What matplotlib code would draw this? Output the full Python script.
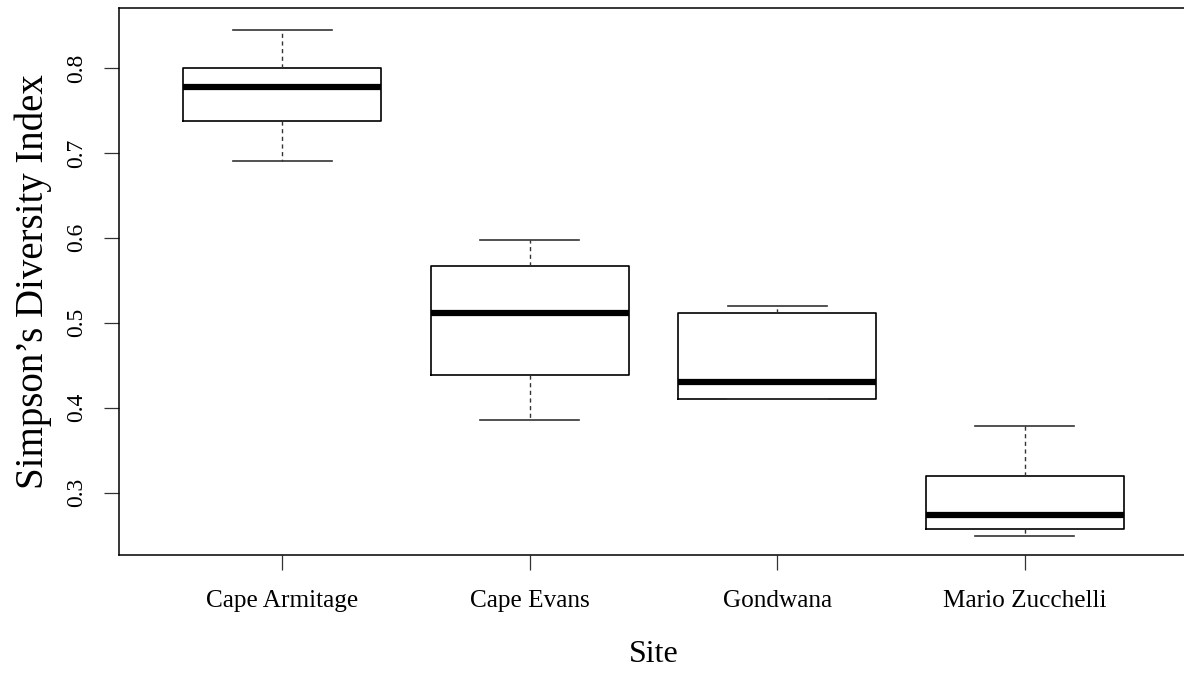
import matplotlib
matplotlib.use("Agg")
import matplotlib.pyplot as plt

sites = ["Cape Armitage", "Cape Evans", "Gondwana", "Mario Zucchelli"]
whisker_low = [0.691, 0.385, 0.410, 0.249]
q1 = [0.738, 0.439, 0.410, 0.257]
median = [0.778, 0.511, 0.430, 0.273]
q3 = [0.800, 0.567, 0.512, 0.320]
whisker_high = [0.845, 0.597, 0.520, 0.378]
yticks = [0.3, 0.4, 0.5, 0.6, 0.7, 0.8]

plt.rcParams['font.family'] = ['Liberation Serif', 'DejaVu Serif']

W, H = 1184, 680
fig = plt.figure(figsize=(W / 100, H / 100), dpi=100)
left, right, top, bottom = 119, 1188, 8, 555
ax = fig.add_axes([left / W, 1 - bottom / H, (right - left) / W, (bottom - top) / H])

stats = []
for i, s in enumerate(sites):
    stats.append(dict(label=s, whislo=whisker_low[i], q1=q1[i], med=median[i],
                      q3=q3[i], whishi=whisker_high[i], fliers=[]))

ax.bxp(stats, positions=range(1, len(sites) + 1), widths=0.8, showfliers=False,
       boxprops=dict(color='black', linewidth=1.2),
       medianprops=dict(color='black', linewidth=4.5, solid_capstyle='butt'),
       whiskerprops=dict(color='#333333', linewidth=1.0, linestyle=(0, (3, 2.5))),
       capprops=dict(color='#333333', linewidth=1.2), capwidths=0.4)

ax.set_xlim(0.34, 4.66)
ax.set_ylim(0.2264, 0.8707)
ax.set_yticks(yticks)
ax.set_yticklabels([f"{v:.1f}" for v in yticks], rotation=90, va='center', fontsize=17)
ax.set_xticks(range(1, len(sites) + 1))
ax.set_xticklabels(sites, fontsize=18.2)
ax.tick_params(axis='both', direction='out', length=11, width=0.9, color='#333333')
ax.tick_params(axis='x', pad=14)
ax.tick_params(axis='y', pad=12)
for sp in ax.spines.values():
    sp.set_linewidth(1.1)
    sp.set_color('black')

ax.set_xlabel("Site", fontsize=23, labelpad=20)
ax.set_ylabel("Simpson\u2019s Diversity Index", fontsize=28, labelpad=10)

fig.savefig("out.png", dpi=100)
